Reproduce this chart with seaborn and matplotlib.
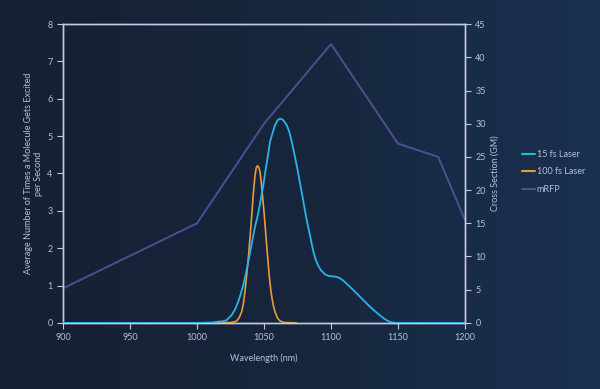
import numpy as np
import pandas as pd
import matplotlib
matplotlib.use("Agg")
import matplotlib.pyplot as plt
import seaborn as sns
from matplotlib.colors import LinearSegmentedColormap

# ---- data ----
fs15_wl = [900, 1000, 1012, 1015, 1019, 1022, 1025.9, 1028.5, 1030.8, 1032.7, 1034.6, 1036.5,
           1038.3, 1040.2, 1042, 1043.8, 1045.8, 1047.7, 1049.5, 1051, 1052.5, 1054.5, 1056.5,
           1058.2, 1060, 1061.9, 1064, 1065.5, 1067, 1069, 1070.7, 1072.5, 1074.4, 1076.2,
           1078.1, 1080, 1081.9, 1084.3, 1086.8, 1088.5, 1090.5, 1092.5, 1095.5, 1098, 1100.5,
           1104.2, 1106.5, 1109.2, 1112.5, 1116.6, 1120, 1124.1, 1128, 1131.6, 1135.5, 1139,
           1142, 1144.5, 1148, 1200]
fs15_val = [0.0, 0.0, 0.01, 0.03, 0.04, 0.07, 0.21, 0.37, 0.57, 0.78, 1.02, 1.32,
            1.64, 2.0, 2.35, 2.65, 2.95, 3.32, 3.69, 4.05, 4.38, 4.85, 5.1,
            5.29, 5.42, 5.47, 5.44, 5.37, 5.29, 5.1, 4.85, 4.55, 4.22, 3.87,
            3.51, 3.12, 2.75, 2.35, 1.91, 1.7, 1.53, 1.41, 1.30, 1.26, 1.25,
            1.23, 1.2, 1.13, 1.02, 0.88, 0.76, 0.61, 0.47, 0.35, 0.23, 0.13,
            0.06, 0.02, 0.0, 0.0]

fs100_wl = [1012, 1026, 1029.6, 1031.5, 1033.4, 1034.6, 1035.8, 1037, 1038.3, 1039.6, 1040.8,
            1042, 1043.3, 1044.2, 1045.2, 1046.2, 1047, 1048, 1048.9, 1050.2, 1051.5, 1052.8,
            1054, 1055.2, 1056.7, 1058.2, 1060, 1062, 1065, 1074]
fs100_val = [0.0, 0.01, 0.05, 0.14, 0.30, 0.52, 0.84, 1.25, 1.73, 2.3, 2.85,
             3.45, 3.95, 4.15, 4.21, 4.15, 4.05, 3.75, 3.4, 2.89, 2.3, 1.73,
             1.22, 0.84, 0.5, 0.30, 0.13, 0.05, 0.01, 0.0]

mrfp_wl = [900, 1000, 1050, 1100, 1150, 1180, 1200]
mrfp_gm = [5.2, 15.0, 30.0, 42.0, 27.0, 25.0, 15.5]

x_ticks = [900, 950, 1000, 1050, 1100, 1150, 1200]
left_ticks = [0, 1, 2, 3, 4, 5, 6, 7, 8]
right_ticks = [0, 5, 10, 15, 20, 25, 30, 35, 40, 45]

# ---- styling ----
sns.set_theme(style="ticks")
plt.rcParams['font.family'] = ['Lato', 'DejaVu Sans']
spine_c = "#c5c9e6"
text_c = "#b8bfd8"
c15 = "#2ab4e6"
c100 = "#e89a3c"
cm = "#4b5190"
fs = 6.5

fig = plt.figure(figsize=(6.0, 3.89), dpi=100)

# background gradient
bg = fig.add_axes([0, 0, 1, 1], zorder=-10)
grad = np.linspace(0, 1, 256)[None, :]
cmap = LinearSegmentedColormap.from_list("bg", ["#152033", "#17263d", "#1a3050"])
bg.imshow(np.vstack([grad] * 4), aspect="auto", cmap=cmap, extent=[0, 1, 0, 1])
bg.set_axis_off()

ax = fig.add_axes([0.105, 0.17, 0.67, 0.768])
ax.set_facecolor("none")
ax2 = ax.twinx()
ax2.set_facecolor("none")

df15 = pd.DataFrame({"wl": fs15_wl, "v": fs15_val})
df100 = pd.DataFrame({"wl": fs100_wl, "v": fs100_val})
dfm = pd.DataFrame({"wl": mrfp_wl, "v": mrfp_gm})

sns.lineplot(data=dfm, x="wl", y="v", ax=ax2, color=cm, lw=1.4, label="mRFP", legend=False, zorder=1)
sns.lineplot(data=df100, x="wl", y="v", ax=ax, color=c100, lw=1.2, label="100 fs Laser", legend=False, zorder=2)
sns.lineplot(data=df15, x="wl", y="v", ax=ax, color=c15, lw=1.3, label="15 fs Laser", legend=False, zorder=3)
ax.set_zorder(ax2.get_zorder() + 1)

ax.set_xlim(900, 1200)
ax.set_ylim(0, 8)
ax2.set_ylim(0, 45)
ax.set_xticks(x_ticks)
ax.set_yticks(left_ticks)
ax2.set_yticks(right_ticks)

for a in (ax, ax2):
    for s in a.spines.values():
        s.set_color(spine_c)
        s.set_linewidth(1.0)
    a.tick_params(colors=text_c, labelsize=fs, length=4, width=0.8)
    a.tick_params(axis='both', color=spine_c)

ax.set_xlabel("Wavelength (nm)", color=text_c, fontsize=fs, labelpad=8)
ax.set_ylabel("Average Number of Times a Molecule Gets Excited\nper Second", color=text_c,
              fontsize=fs, labelpad=3, linespacing=1.2)
ax2.set_ylabel("Cross Section (GM)", color=text_c, fontsize=fs, labelpad=3)

h1, l1 = ax.get_legend_handles_labels()
h2, l2 = ax2.get_legend_handles_labels()
order = {"15 fs Laser": 0, "100 fs Laser": 1, "mRFP": 2}
hs = list(zip(h1 + h2, l1 + l2))
hs.sort(key=lambda t: order[t[1]])
leg = fig.legend([h for h, _ in hs], [l for _, l in hs], loc="center left",
                 bbox_to_anchor=(0.857, 0.558), frameon=False, fontsize=fs,
                 handlelength=1.4, handletextpad=0.2, labelspacing=0.95, labelcolor=text_c)
for line in leg.get_lines():
    line.set_linewidth(1.5)

fig.savefig("out.png", dpi=100)
